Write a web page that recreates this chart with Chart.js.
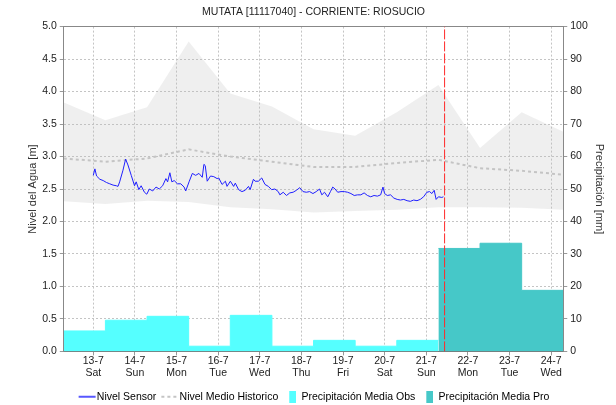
<!DOCTYPE html>
<html lang="es">
<head>
<meta charset="UTF-8" />
<title>MUTATA [11117040] - CORRIENTE: RIOSUCIO</title>
<script src="https://cdn.jsdelivr.net/npm/chart.js@4.4.0/dist/chart.umd.min.js"></script>
<style>
  body { margin: 0; background: #fff; }
</style>
</head>
<body>
<canvas id="chart" width="616" height="405"></canvas>
<script>
// eje x en dias desde 12-7 00:00, dia hidrologico de 07:00 a 07:00
const startDay = 7 / 24;
const tickDays = [1, 2, 3, 4, 5, 6, 7, 8, 9, 10, 11, 12];
const tickDates = ["13-7", "14-7", "15-7", "16-7", "17-7", "18-7", "19-7", "20-7", "21-7", "22-7", "23-7", "24-7"];
const tickWeekdays = ["Sat", "Sun", "Mon", "Tue", "Wed", "Thu", "Fri", "Sat", "Sun", "Mon", "Tue", "Wed"];

// historico (un valor por limite de dia)
const histUpper = [3.83, 3.56, 3.76, 4.77, 3.97, 3.77, 3.42, 3.32, 3.68, 4.10, 3.13, 3.68, 3.38];
const histLower = [2.31, 2.27, 2.32, 2.30, 2.22, 2.19, 2.14, 2.16, 2.18, 2.22, 2.22, 2.21, 2.18];
const histMean = [2.97, 2.92, 2.97, 3.11, 3.00, 2.92, 2.84, 2.84, 2.90, 2.95, 2.82, 2.78, 2.72];

// precipitacion diaria [mm]
const precipObs = [6.3, 9.6, 10.8, 1.6, 11.1, 1.6, 3.4, 1.6, 3.4];
const precipPro = [31.7, 33.3, 18.8];

// momento actual (linea roja)
const nowDay = 9.44;

// nivel sensor [m]
const sensorDays = [1.000, 1.039, 1.079, 1.158, 1.237, 1.317, 1.396, 1.475, 1.555, 1.594,
  1.634, 1.714, 1.777, 1.833, 1.912, 1.991, 2.031, 2.094, 2.150, 2.229,
  2.285, 2.348, 2.428, 2.507, 2.586, 2.666, 2.745, 2.785, 2.840, 2.888,
  2.944, 3.023, 3.102, 3.182, 3.221, 3.301, 3.380, 3.460, 3.539, 3.618,
  3.658, 3.690, 3.737, 3.817, 3.896, 3.975, 4.015, 4.094, 4.174, 4.213,
  4.293, 4.372, 4.412, 4.491, 4.571, 4.650, 4.729, 4.769, 4.848, 4.888,
  4.967, 5.047, 5.126, 5.206, 5.285, 5.364, 5.444, 5.483, 5.563, 5.642,
  5.721, 5.801, 5.880, 5.960, 6.039, 6.118, 6.198, 6.277, 6.356, 6.436,
  6.491, 6.555, 6.634, 6.698, 6.753, 6.809, 6.872, 6.952, 7.031, 7.110,
  7.190, 7.269, 7.348, 7.428, 7.507, 7.587, 7.666, 7.745, 7.825, 7.904,
  7.960, 7.999, 8.063, 8.142, 8.221, 8.301, 8.380, 8.460, 8.539, 8.618,
  8.698, 8.777, 8.856, 8.936, 9.015, 9.079, 9.134, 9.190, 9.237, 9.293,
  9.372, 9.412];
const sensorLevels = [2.71, 2.81, 2.70, 2.65, 2.63, 2.60, 2.58, 2.56, 2.55, 2.54,
  2.61, 2.79, 2.96, 2.87, 2.71, 2.55, 2.61, 2.49, 2.55, 2.45,
  2.42, 2.50, 2.47, 2.53, 2.50, 2.55, 2.66, 2.61, 2.75, 2.61,
  2.63, 2.58, 2.58, 2.53, 2.47, 2.61, 2.74, 2.71, 2.74, 2.68,
  2.88, 2.86, 2.62, 2.70, 2.69, 2.66, 2.67, 2.57, 2.62, 2.54,
  2.62, 2.54, 2.59, 2.49, 2.46, 2.48, 2.54, 2.49, 2.65, 2.62,
  2.62, 2.67, 2.57, 2.54, 2.49, 2.50, 2.46, 2.41, 2.45, 2.40,
  2.44, 2.45, 2.48, 2.52, 2.46, 2.45, 2.46, 2.43, 2.46, 2.50,
  2.41, 2.45, 2.38, 2.46, 2.53, 2.50, 2.45, 2.46, 2.46, 2.45,
  2.43, 2.40, 2.41, 2.41, 2.44, 2.40, 2.38, 2.40, 2.39, 2.41,
  2.53, 2.43, 2.40, 2.41, 2.36, 2.34, 2.33, 2.34, 2.32, 2.31,
  2.33, 2.32, 2.34, 2.38, 2.45, 2.46, 2.43, 2.48, 2.34, 2.38,
  2.37, 2.38];

const fontFamily = "'Liberation Sans', Arial, sans-serif";
Chart.defaults.font.family = fontFamily;
Chart.defaults.font.size = 11;
Chart.defaults.color = "#333";

// puntos por limite de dia
const dayPoints = vals => vals.map((v, i) => ({ x: startDay + i, y: v }));
// barras diarias como escalones
function stepPoints(vals, offset) {
  const pts = vals.map((v, i) => ({ x: startDay + offset + i, y: v }));
  pts.push({ x: startDay + offset + vals.length, y: vals[vals.length - 1] });
  return pts;
}

// muestras de la leyenda (caja de 12px, la imagen se centra en ella)
function sample(w, h, draw) {
  const c = document.createElement("canvas");
  c.width = w; c.height = h;
  draw(c.getContext("2d"));
  return c;
}
const legBlue = sample(22, 10, g => {
  g.strokeStyle = "#1f1fff"; g.lineWidth = 1.5;
  g.beginPath(); g.moveTo(4, 5); g.lineTo(21, 5); g.stroke();
});
const legGrey = sample(22, 10, g => {
  g.strokeStyle = "#c4c4c4"; g.lineWidth = 2; g.setLineDash([3, 3]);
  g.beginPath(); g.moveTo(4, 5); g.lineTo(21, 5); g.stroke();
});
const legObs = sample(12, 12, g => { g.fillStyle = "#55ffff"; g.fillRect(5, 0, 7, 12); });
const legPro = sample(12, 12, g => { g.fillStyle = "#46c8c8"; g.fillRect(5, 0, 7, 12); });

const ctx = document.getElementById("chart").getContext("2d");
const myChart = new Chart(ctx, {
  type: "line",
  data: {
    datasets: [
      {
        // banda historica (max)
        label: "max",
        data: dayPoints(histUpper),
        borderWidth: 0,
        pointRadius: 0,
        backgroundColor: "rgba(190, 190, 190, 0.24)",
        fill: "+1",
        yAxisID: "y",
        order: 10
      },
      {
        label: "min",
        data: dayPoints(histLower),
        borderWidth: 0,
        pointRadius: 0,
        fill: false,
        yAxisID: "y",
        order: 10
      },
      {
        label: "Nivel Medio Historico",
        data: dayPoints(histMean),
        borderColor: "#c4c4c4",
        borderWidth: 2,
        borderDash: [3, 3],
        pointRadius: 0,
        fill: false,
        yAxisID: "y",
        order: 4
      },
      {
        label: "Nivel Sensor",
        data: sensorDays.map((d, i) => ({ x: d, y: sensorLevels[i] })),
        borderColor: "#1f1fff",
        borderWidth: 1,
        pointRadius: 0,
        fill: false,
        yAxisID: "y",
        order: 2
      },
      {
        label: "Precipitación Media Obs",
        data: stepPoints(precipObs, 0),
        stepped: "before",
        borderColor: "#55ffff",
        borderWidth: 1,
        backgroundColor: "#55ffff",
        pointRadius: 0,
        fill: "origin",
        yAxisID: "y2",
        order: 6
      },
      {
        label: "Precipitación Media Pro",
        data: stepPoints(precipPro, precipObs.length),
        stepped: "before",
        borderColor: "#46c8c8",
        borderWidth: 1,
        backgroundColor: "#46c8c8",
        pointRadius: 0,
        fill: "origin",
        yAxisID: "y2",
        order: 6
      },
      {
        // ahora
        label: "ahora",
        data: [{ x: nowDay, y: 0 }, { x: nowDay, y: 5 }],
        borderColor: "#ff2a2a",
        borderWidth: 1,
        borderDash: [10, 2],
        pointRadius: 0,
        fill: false,
        yAxisID: "y",
        order: 1
      }
    ]
  },
  options: {
    responsive: false,
    animation: false,
    layout: { padding: { left: 16, right: 3, top: 0, bottom: -7 } },
    plugins: {
      tooltip: { enabled: false },
      title: {
        display: true,
        text: "MUTATA [11117040] - CORRIENTE: RIOSUCIO",
        fullSize: false,
        color: "#222",
        font: { size: 10.5, weight: "normal" },
        padding: { top: 6, bottom: 8 }
      },
      legend: {
        position: "bottom",
        labels: {
          usePointStyle: true,
          pointStyleWidth: 12,
          boxHeight: 10,
          padding: 6,
          color: "#333",
          font: { size: 10.5 },
          generateLabels: () => [
            { text: "Nivel Sensor", pointStyle: legBlue, lineWidth: 0 },
            { text: "Nivel Medio Historico", pointStyle: legGrey, lineWidth: 0 },
            { text: "Precipitación Media Obs", pointStyle: legObs, lineWidth: 0 },
            { text: "Precipitación Media Pro", pointStyle: legPro, lineWidth: 0 }
          ]
        }
      }
    },
    scales: {
      x: {
        type: "linear",
        min: startDay,
        max: startDay + 12,
        afterBuildTicks: s => { s.ticks = tickDays.map(v => ({ value: v })); },
        afterFit: s => { s.height += 7; },
        ticks: {
          autoSkip: false,
          maxRotation: 0,
          padding: 0,
          color: "#222",
          font: { size: 10.5, lineHeight: 1.1 },
          callback: v => {
            const i = tickDays.indexOf(v);
            return i < 0 ? "" : [tickDates[i], tickWeekdays[i]];
          }
        },
        grid: { color: "#c4c4c4", tickLength: 4, tickColor: "#999" },
        border: { color: "#777", dash: [2, 2] }
      },
      xTop: {
        type: "linear",
        position: "top",
        min: startDay,
        max: startDay + 12,
        ticks: { display: false },
        grid: { display: false, drawTicks: false },
        border: { color: "#888" }
      },
      y: {
        position: "left",
        min: 0,
        max: 5,
        ticks: {
          stepSize: 0.5,
          padding: 3,
          color: "#222",
          font: { size: 10.5 },
          callback: v => v.toFixed(1)
        },
        title: { display: true, text: "Nivel del Agua [m]", color: "#333", font: { size: 11 }, padding: { top: 10, bottom: 0 } },
        grid: { color: "#c4c4c4", tickLength: 4, tickColor: "#999" },
        border: { color: "#888", dash: [2, 2] }
      },
      y2: {
        position: "right",
        min: 0,
        max: 100,
        ticks: { stepSize: 10, padding: 3, color: "#222", font: { size: 10.5 } },
        title: { display: true, text: "Precipitación [mm]", color: "#333", font: { size: 11 }, padding: { top: 7, bottom: 2 } },
        grid: { drawOnChartArea: false, tickLength: 4, tickColor: "#999" },
        border: { color: "#888" }
      }
    }
  }
});
</script>
</body>
</html>
